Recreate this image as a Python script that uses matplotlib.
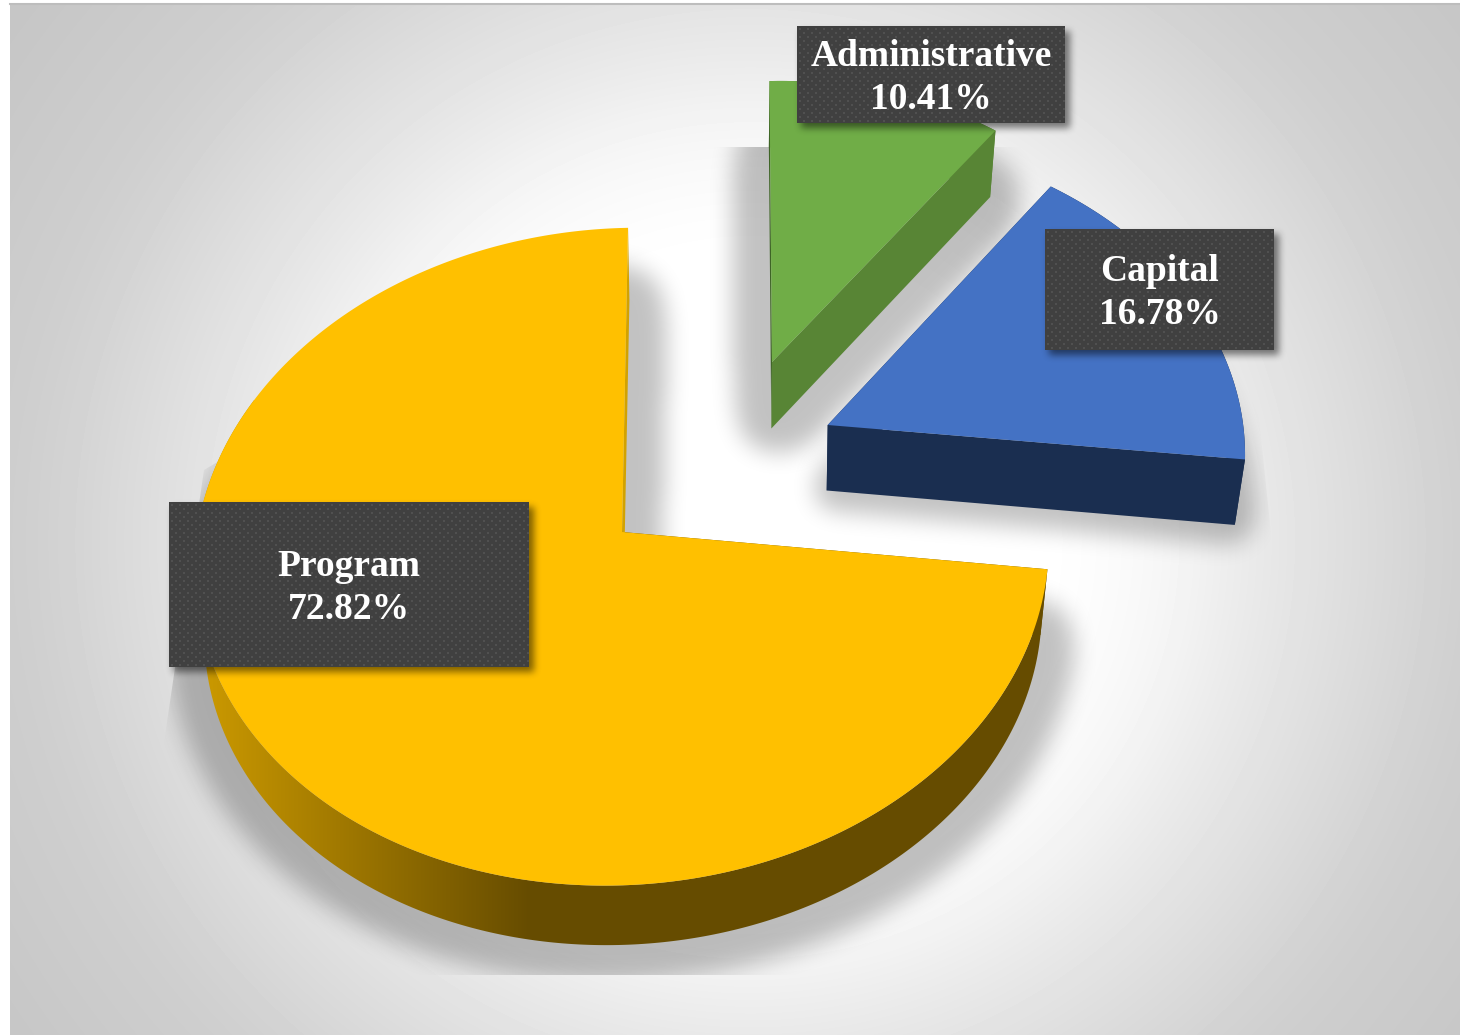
import numpy as np
import matplotlib
matplotlib.use("Agg")
import matplotlib.pyplot as plt
from matplotlib.colors import to_rgb
from matplotlib.path import Path
from matplotlib.patches import Polygon

# ---- data ----
categories = ["Administrative", "Capital", "Program"]
shares = [10.41, 16.78, 72.82]

# ---- style ----
top_colors = ["#70AD47", "#4472C4", "#FFC000"]
wall_colors = ["#588535", "#1A2E50", "#664C00"]
start_face_colors = ["#3E6426", "#1A2E50", "#664C00"]
end_face_colors = ["#588535", "#1A2E50", "#D2A200"]

# ---- layout: perspective of each exploded slice, in pixels ----
P = 0.075
apex = [(772.0, 362.0), (827.7, 425.0), (622.0, 532.0)]
x_basis = [(392.7, -2.7), (414.2, -19.7), (426.0, 6.5)]
y_basis = [(-9.0, -302.0), (-8.7, -311.7), (-8.0, -327.0)]
depth = [(740.0, 0.979, 1.0, 66.5), (782.0, 0.978, 1.0, 65.5), (697.0, 0.98, 0.98, 66.6)]
shadow_grow = [16, 9, 15]
shadow_clips = [
    [(690, 147), (1040, 147), (1040, 480), (690, 480)],
    [(780, 170), (1250, 330), (1273, 553), (1273, 600), (780, 600)],
    [(632, 215), (720, 215), (1180, 540), (1180, 975), (160, 975), (160, 770), (204, 470)],
]
label_boxes = [(797, 26, 1065, 123), (1045, 229, 1274, 350), (169, 502, 529, 667)]
bg_r = [0.00, 0.30, 0.40, 0.50, 0.70, 0.90, 1.30]
bg_drop = [0, 0, 8, 23, 48, 58, 72]

W, H = 1460, 1035
fig = plt.figure(figsize=(W / 100, H / 100), dpi=100, facecolor="white")
ax = fig.add_axes([0, 0, 1, 1])
ax.set_xlim(0, W)
ax.set_ylim(H, 0)
ax.axis("off")


def project(i, theta):
    w = 1 + P * np.cos(theta)
    x = apex[i][0] + (x_basis[i][0] * np.sin(theta) + x_basis[i][1] * np.cos(theta)) / w
    y = apex[i][1] + (y_basis[i][0] * np.sin(theta) + y_basis[i][1] * np.cos(theta)) / w
    return np.column_stack([x, y])


def extrude(i, pts):
    vx, sx, sy, dz = depth[i]
    pts = np.asarray(pts, float)
    x = vx + (pts[:, 0] - vx) * sx
    y = apex[i][1] + (pts[:, 1] - apex[i][1]) * sy + dz
    return np.column_stack([x, y])


def box_blur(a, r, axis):
    c = np.cumsum(np.insert(a, 0, 0, axis=axis), axis=axis)
    n = a.shape[axis]
    hi = np.clip(np.arange(n) + r + 1, 0, n)
    lo = np.clip(np.arange(n) - r, 0, n)
    return (np.take(c, hi, axis=axis) - np.take(c, lo, axis=axis)) / (2 * r + 1)


def blur3(m, r):
    for _ in range(3):
        m = box_blur(m, r, 0)
        m = box_blur(m, r, 1)
    return m


def soft_shadow(poly, sigma, strength, offset, step, zorder, clip=None, grow=0):
    pts = np.asarray(poly, float) + offset
    pad = 4 * sigma + 3 * grow
    x0, x1 = pts[:, 0].min() - pad, pts[:, 0].max() + pad
    y0, y1 = pts[:, 1].min() - pad, pts[:, 1].max() + pad
    xs = np.arange(x0, x1, step)
    ys = np.arange(y0, y1, step)
    gx, gy = np.meshgrid(xs, ys)
    grid = np.column_stack([gx.ravel(), gy.ravel()])
    m = Path(pts).contains_points(grid).reshape(gx.shape).astype(float)
    if grow:
        m = (blur3(m, max(1, int(round(grow / step)))) > 0.01).astype(float)
    m = blur3(m, max(1, int(round(sigma / step))))
    rgba = np.zeros(gx.shape + (4,))
    rgba[..., 3] = m * strength
    im = ax.imshow(rgba, extent=(x0, x1, y1, y0), zorder=zorder, interpolation="bilinear", aspect="auto")
    if clip is not None:
        im.set_clip_path(Polygon(clip, closed=True, transform=ax.transData))
    return im


# ---- background: smoothed radial falloff ----
bx, by = np.meshgrid(np.arange(10, W), np.arange(4, H))
r = np.sqrt(((bx - 750) / 1025.0) ** 2 + ((by - 540) / 1000.0) ** 2)
rr = np.linspace(-0.2, 1.5, 1701)
profile = np.interp(rr, bg_r, bg_drop)
profile = np.convolve(profile, np.ones(81) / 81, mode="same")
bg = (255 - np.interp(r, rr[100:-100], profile[100:-100])) / 255.0
ax.imshow(bg, cmap="gray", vmin=0, vmax=1, extent=(10, W, H, 4), zorder=0, aspect="auto")
ax.plot([10, W], [3.5, 3.5], color="#BDBDBD", lw=1.5, zorder=1)

# ---- slices ----
fractions = np.array(shares) / np.sum(shares)
edges = np.concatenate([[0], np.cumsum(fractions)]) * 2 * np.pi

for i in [1, 0, 2]:
    t0, t1 = edges[i], edges[i + 1]
    theta = np.linspace(t0, t1, max(30, int((t1 - t0) * 90)))
    rim = project(i, theta)
    rim_low = extrude(i, rim)
    ap = np.array([apex[i]])
    ap_low = extrude(i, ap)
    top = np.vstack([ap, rim])
    low = np.vstack([ap_low, rim_low])
    wall = np.vstack([rim, rim_low[::-1]])
    face_a = np.vstack([ap, rim[:1], rim_low[:1], ap_low])
    face_b = np.vstack([ap, rim[-1:], rim_low[-1:], ap_low])

    soft_shadow(low, 10, 0.24, np.array([0.0, 0.0]), 2, 2 + 0.1 * i, clip=shadow_clips[i], grow=shadow_grow[i])

    zb = 3
    if categories[i] == "Program":
        # wall shading runs from bright at the left to the dark wall colour
        stops = np.clip((np.arange(190, 1060) - 200) / 330.0, 0, 1)
        c0 = np.array(to_rgb("#CC9A00"))
        c1 = np.array(to_rgb(wall_colors[i]))
        grad = (c0[None, :] * (1 - stops[:, None]) + c1[None, :] * stops[:, None])[None, :, :]
        im = ax.imshow(grad, extent=(190, 1060, 1000, 400), aspect="auto", zorder=zb)
        im.set_clip_path(Polygon(wall, closed=True, transform=ax.transData))
    else:
        ax.add_patch(Polygon(wall, closed=True, fc=wall_colors[i], ec="none", zorder=zb))
    ax.add_patch(Polygon(face_a, closed=True, fc=start_face_colors[i], ec="none", zorder=zb + 0.1))
    ax.add_patch(Polygon(face_b, closed=True, fc=end_face_colors[i], ec="none", zorder=zb + 0.2))
    ax.add_patch(Polygon(top, closed=True, fc=top_colors[i], ec="none", zorder=zb + 0.3))

# ---- labels ----
for name, share, (x0, y0, x1, y1) in zip(categories, shares, label_boxes):
    rect = [(x0, y0), (x1, y0), (x1, y1), (x0, y1)]
    soft_shadow(rect, 3, 0.5, np.array([4.0, 4.0]), 1, 5)
    h, w = y1 - y0, x1 - x0
    yy, xx = np.mgrid[0:h, 0:w]
    row = (yy + 2) // 4
    dots = (((xx + 2 + 4 * (row % 2)) % 8 < 2) & ((yy + 2) % 4 < 2))
    tex = np.where(dots[..., None], np.array([0x50, 0x50, 0x50]) / 255, np.array([0x40, 0x40, 0x40]) / 255)
    ax.imshow(tex, extent=(x0, x1, y1, y0), zorder=6, aspect="auto", interpolation="nearest")
    ax.text((x0 + x1) / 2, (y0 + y1) / 2 + 3.5, f"{name}\n{share:.2f}%", color="white", ha="center", va="center",
            family="Liberation Serif", weight="bold", fontsize=27, linespacing=1.29, zorder=7)

ax.set_xlim(0, W)
ax.set_ylim(H, 0)
fig.savefig("out.png", dpi=100, facecolor="white")
